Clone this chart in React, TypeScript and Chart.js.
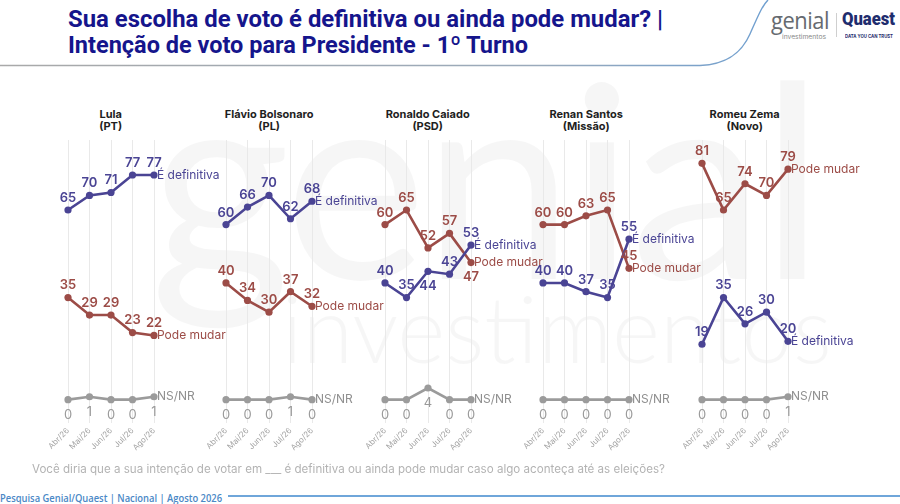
import React, { useEffect, useLayoutEffect, useRef } from "react";
import { Chart, registerables } from "chart.js";

Chart.register(...registerables);
Chart.defaults.font.family = "Inter, 'Noto Sans', sans-serif";

// ---------------- data ----------------
const months = ["Abr/26", "Mai/26", "Jun/26", "Jul/26", "Ago/26"];
const candidates = ["Lula", "Flávio Bolsonaro", "Ronaldo Caiado", "Renan Santos", "Romeu Zema"];
const parties = ["(PT)", "(PL)", "(PSD)", "(Missão)", "(Novo)"];
const seriesNames = ["É definitiva", "Pode mudar", "NS/NR"];
const definitiva = [
  [65, 70, 71, 77, 77],
  [60, 66, 70, 62, 68],
  [40, 35, 44, 43, 53],
  [40, 40, 37, 35, 55],
  [19, 35, 26, 30, 20],
];
const podeMudar = [
  [35, 29, 29, 23, 22],
  [40, 34, 30, 37, 32],
  [60, 65, 52, 57, 47],
  [60, 60, 63, 65, 45],
  [81, 65, 74, 70, 79],
];
const nsnr = [
  [0, 1, 0, 0, 1],
  [0, 0, 0, 1, 0],
  [0, 0, 4, 0, 0],
  [0, 0, 0, 0, 0],
  [0, 0, 0, 0, 1],
];
const titleLine1 = "Sua escolha de voto é definitiva ou ainda pode mudar? |";
const titleLine2 = "Intenção de voto para Presidente - 1º Turno";
const questionText =
  "Você diria que a sua intenção de votar em ___ é definitiva ou ainda pode mudar caso algo aconteça até as eleições?";
const sourceText = "Pesquisa Genial/Quaest | Nacional | Agosto 2026";

// ---------------- style ----------------
const COLORS = ["#4a4494", "#9c4c47", "#9b9b9b"];
const TITLE_COLOR = "#15158c";
// labels drawn below their point (panel-series-index)
const LABEL_BELOW = ["2-0-2", "2-1-4"];

const FIRST_X = 67.7;
const PANEL_STEP = 158.5;
const AREA_W = 86;
const PAD_L = 40;
const PAD_R = 80;
const AREA_TOP = 136;
const AREA_H = 287;
const XAXIS_H = 40;
const Y_MIN = -8;
const Y_MAX = 89;

const labelPlugin = {
  id: "pointLabels",
  afterDatasetsDraw(chart: any) {
    const ctx = chart.ctx;
    const panel = chart.options.plugins.pointLabels.panel;
    ctx.save();
    chart.data.datasets.forEach((ds: any, di: number) => {
      const meta = chart.getDatasetMeta(di);
      const isNs = di === 2;
      meta.data.forEach((pt: any, i: number) => {
        const below = isNs || LABEL_BELOW.includes(`${panel}-${di}-${i}`);
        ctx.font = isNs ? "400 13px Inter" : "600 13px Inter";
        ctx.fillStyle = isNs ? "#9a9a9a" : COLORS[di];
        ctx.textAlign = "center";
        ctx.textBaseline = "middle";
        ctx.fillText(String(ds.data[i]), pt.x, below ? pt.y + 15 : pt.y - 12);
      });
      const last = meta.data[meta.data.length - 1];
      ctx.font = "400 12px Inter";
      ctx.fillStyle = isNs ? "#8f8f8f" : COLORS[di];
      ctx.textAlign = "left";
      ctx.textBaseline = "middle";
      ctx.fillText(ds.label, last.x + 3, last.y);
    });
    ctx.restore();
  },
};

function Panel({ idx }: { idx: number }) {
  const ref = useRef<HTMLCanvasElement>(null);
  const W = PAD_L + AREA_W + PAD_R;
  const H = AREA_H + XAXIS_H;
  useEffect(() => {
    const series = [definitiva[idx], podeMudar[idx], nsnr[idx]];
    const chart = new Chart(ref.current as HTMLCanvasElement, {
      type: "line",
      data: {
        labels: months,
        datasets: series.map((d, si) => ({
          label: seriesNames[si],
          data: d,
          borderColor: COLORS[si],
          backgroundColor: COLORS[si],
          pointBackgroundColor: COLORS[si],
          pointBorderWidth: 0,
          pointRadius: 3.6,
          borderWidth: 2.6,
          tension: 0,
          clip: false,
        })),
      },
      options: {
        responsive: false,
        maintainAspectRatio: false,
        animation: false,
        layout: { padding: { left: PAD_L, right: PAD_R, top: 0, bottom: 0 } },
        scales: {
          x: {
            offset: false,
            grid: { color: "#e9e9e9", lineWidth: 1, drawTicks: false },
            border: { display: false },
            ticks: {
              minRotation: 45,
              maxRotation: 45,
              padding: 3,
              color: "#a3a3a3",
              font: { size: 8 },
            },
            afterFit: (scale: any) => {
              scale.height = XAXIS_H;
            },
          },
          y: { display: false, min: Y_MIN, max: Y_MAX },
        },
        plugins: {
          legend: { display: false },
          tooltip: { enabled: false },
          pointLabels: { panel: idx },
        } as any,
      },
      plugins: [labelPlugin],
    });
    return () => chart.destroy();
  }, [idx]);
  const left = FIRST_X + idx * PANEL_STEP - PAD_L;
  return (
    <canvas
      ref={ref}
      width={W}
      height={H}
      style={{ position: "absolute", left, top: AREA_TOP, width: W, height: H }}
    />
  );
}

function FitText({ text, width, style }: { text: string; width: number; style: any }) {
  const ref = useRef<HTMLSpanElement>(null);
  useLayoutEffect(() => {
    const el = ref.current;
    if (!el) return;
    el.style.transform = "none";
    const w = el.getBoundingClientRect().width;
    if (w > 0) el.style.transform = `scaleX(${width / w})`;
  }, [text, width]);
  return (
    <span
      ref={ref}
      style={{ display: "inline-block", whiteSpace: "nowrap", transformOrigin: "left center", ...style }}
    >
      {text}
    </span>
  );
}

export default function App() {
  return (
    <div
      style={{
        position: "fixed",
        left: 0,
        top: 0,
        width: 900,
        height: 504,
        background: "#ffffff",
        overflow: "hidden",
        fontFamily: "Inter, sans-serif",
      }}
    >
      {/* watermark */}
      <div
        style={{
          position: "absolute",
          left: 150,
          top: 40,
          fontFamily: "Lato, sans-serif",
          fontSize: 270,
          lineHeight: "270px",
          color: "rgba(0,0,0,0.035)",
          letterSpacing: -4,
        }}
      >
        genial
      </div>
      <div
        style={{
          position: "absolute",
          left: 282,
          top: 282,
          fontFamily: "Lato, sans-serif",
          fontWeight: 300,
          fontSize: 92,
          lineHeight: "92px",
          color: "rgba(0,0,0,0.035)",
        }}
      >
        investimentos
      </div>

      {/* header */}
      <div style={{ position: "absolute", left: 68, top: 6, lineHeight: "26px" }}>
        <FitText
          text={titleLine1}
          width={595}
          style={{ fontFamily: "Roboto, sans-serif", fontWeight: 700, fontSize: 24, color: TITLE_COLOR }}
        />
      </div>
      <div style={{ position: "absolute", left: 68, top: 32, lineHeight: "26px" }}>
        <FitText
          text={titleLine2}
          width={460}
          style={{ fontFamily: "Roboto, sans-serif", fontWeight: 700, fontSize: 24, color: TITLE_COLOR }}
        />
      </div>
      <svg style={{ position: "absolute", left: 0, top: 0 }} width={900} height={80}>
        <defs>
          <linearGradient id="hl" x1="0" y1="0" x2="1" y2="0">
            <stop offset="0" stopColor="#a9a9a9" />
            <stop offset="0.7" stopColor="#9aaabb" />
            <stop offset="1" stopColor="#6f9fd0" />
          </linearGradient>
        </defs>
        <path
          d="M0 65.5 L 700 65.5 C 728 64.5, 742 52, 750 34 S 762 6, 768 0"
          fill="none"
          stroke="url(#hl)"
          strokeWidth={1.4}
        />
      </svg>
      {/* logo */}
      <div style={{ position: "absolute", left: 771, top: 6, lineHeight: "28px" }}>
        <FitText
          text="genial"
          width={58}
          style={{ fontFamily: "'Open Sans', sans-serif", fontSize: 24, color: "#666a70", letterSpacing: -0.5 }}
        />
      </div>
      <div style={{ position: "absolute", left: 782, top: 29, lineHeight: "8px" }}>
        <FitText text="investimentos" width={44} style={{ fontSize: 6, color: "#8a8a8a" }} />
      </div>
      <div style={{ position: "absolute", left: 836, top: 13, width: 1, height: 24, background: "#cfcfcf" }} />
      <div style={{ position: "absolute", left: 842, top: 8, lineHeight: "22px" }}>
        <FitText
          text="Quaest"
          width={53}
          style={{ fontFamily: "Roboto, sans-serif", fontWeight: 900, fontSize: 19, color: "#1f2d6e" }}
        />
      </div>
      <div style={{ position: "absolute", left: 845, top: 29, lineHeight: "7px" }}>
        <FitText
          text="DATA YOU CAN TRUST"
          width={48}
          style={{ fontSize: 5, fontWeight: 700, color: "#1f2d6e" }}
        />
      </div>

      {/* panel titles */}
      {candidates.map((c, i) => (
        <div
          key={c}
          style={{
            position: "absolute",
            left: FIRST_X + i * PANEL_STEP + AREA_W / 2 - 70,
            width: 140,
            top: 108,
            textAlign: "center",
            fontFamily: "Inter, sans-serif",
            fontWeight: 700,
            fontSize: 11,
            lineHeight: "12px",
            color: "#1e1e1e",
          }}
        >
          {c}
          <br />
          {parties[i]}
        </div>
      ))}

      {candidates.map((c, i) => (
        <Panel key={c} idx={i} />
      ))}

      {/* footer */}
      <div style={{ position: "absolute", left: 32, top: 459, lineHeight: "16px" }}>
        <FitText text={questionText} width={633} style={{ fontSize: 11.5, color: "#b3b3b3" }} />
      </div>
      <div style={{ position: "absolute", left: 0, top: 489, lineHeight: "14px" }}>
        <FitText
          text={sourceText}
          width={222}
          style={{ fontFamily: "'Open Sans', sans-serif", fontWeight: 600, fontSize: 10, color: "#4a88c6" }}
        />
      </div>
      <div style={{ position: "absolute", left: 228, top: 494.5, width: 672, height: 2, background: "#6fa6da" }} />
    </div>
  );
}
